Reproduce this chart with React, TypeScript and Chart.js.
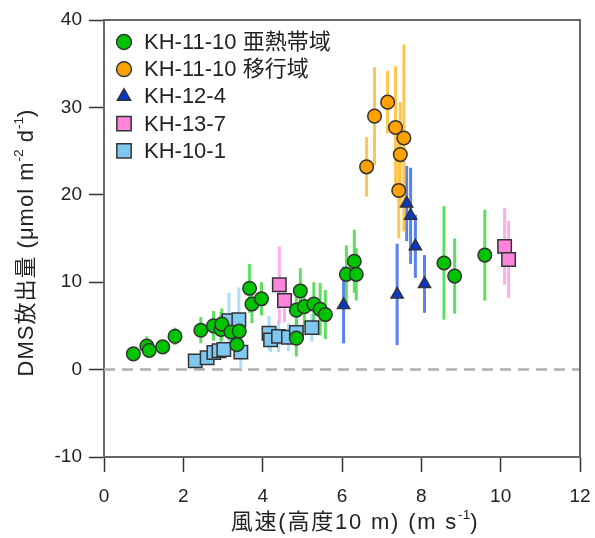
import React, { useEffect, useRef } from 'react';
import { Chart, registerables } from 'chart.js';
import { drawPoint } from 'chart.js/helpers';

Chart.register(...registerables);

const FONT = "'Liberation Sans', 'Noto Sans CJK JP', Arial, sans-serif";

// axis ranges / ticks
const xRange = [0, 12];
const xStep = 2;
const yRange = [-10, 40];
const yStep = 10;
const zeroLine = [0, 0];

const seriesLabels = ['KH-11-10 亜熱帯域', 'KH-11-10 移行域', 'KH-12-4', 'KH-13-7', 'KH-10-1'];

// KH-11-10 亜熱帯域
const subX = [0.74, 1.08, 1.14, 1.48, 1.79, 2.44, 2.76, 2.95, 2.97, 3.2, 3.41, 3.35, 3.67, 3.73, 3.97, 4.85, 4.85, 4.95, 5.05, 5.29, 5.45, 5.58, 6.11, 6.31, 6.36, 8.57, 8.84, 9.6];
const subY = [1.8, 2.7, 2.2, 2.6, 3.8, 4.5, 5.0, 4.6, 5.2, 4.3, 4.4, 2.85, 9.3, 7.5, 8.1, 3.6, 6.8, 9.0, 7.2, 7.5, 6.9, 6.3, 10.9, 12.4, 10.9, 12.2, 10.7, 13.1];
const subErr = [0.5, 1.1, 0.8, 0.6, 1.0, 1.5, 1.7, 2.0, 1.8, 1.5, 1.8, 1.2, 2.8, 2.2, 1.9, 2.1, 2.0, 2.6, 2.2, 2.5, 3.0, 2.8, 3.3, 3.6, 3.0, 6.5, 4.3, 5.2];

// KH-11-10 移行域
const traX = [6.62, 6.82, 7.15, 7.35, 7.56, 7.47, 7.43];
const traY = [23.2, 29.0, 30.6, 27.7, 26.5, 24.6, 20.5];
const traErr = [3.4, 5.6, 3.6, 7.0, 10.7, 6.0, 5.5];

// KH-12-4
const k124X = [6.04, 7.39, 7.63, 7.73, 7.85, 8.08];
const k124Y = [7.4, 8.6, 19.0, 17.6, 14.1, 9.8];
const k124Err = [4.4, 5.8, 4.3, 5.5, 3.6, 3.3];

// KH-13-7
const k137X = [4.42, 4.55, 10.1, 10.2];
const k137Y = [9.7, 7.9, 14.1, 12.6];
const k137Err = [4.4, 2.5, 4.4, 4.4];

// KH-10-1
const k101X = [2.3, 2.6, 2.77, 2.9, 3.02, 3.15, 3.4, 3.45, 4.16, 4.2, 4.4, 4.65, 4.85, 5.24];
const k101Y = [1.0, 1.35, 1.95, 2.15, 2.3, 5.6, 5.7, 2.0, 4.15, 3.4, 3.8, 3.7, 4.25, 4.8];
const k101Err = [0.4, 0.5, 0.8, 1.0, 0.9, 3.2, 3.7, 2.2, 2.0, 1.4, 1.8, 1.6, 1.4, 1.6];

const pts = (xs: number[], ys: number[]) => xs.map((v, i) => ({ x: v, y: ys[i] }));

const styles = [
  { fill: '#00c400', err: 'rgba(80,218,80,0.9)', shape: 'circle', r: 6.8 },
  { fill: '#ffa200', err: 'rgba(255,192,60,0.9)', shape: 'circle', r: 6.8 },
  { fill: '#0a36d0', err: 'rgba(70,115,240,0.9)', shape: 'triangle', r: 7 },
  { fill: '#ff85dc', err: 'rgba(255,165,232,0.9)', shape: 'rect', r: 9.5 },
  { fill: '#80c8f2', err: 'rgba(165,218,250,0.9)', shape: 'rect', r: 9.5 },
];

const seriesData = [
  [subX, subY, subErr],
  [traX, traY, traErr],
  [k124X, k124Y, k124Err],
  [k137X, k137Y, k137Err],
  [k101X, k101Y, k101Err],
];

const errorBarPlugin = {
  id: 'errorBars',
  beforeDatasetsDraw(chart: any) {
    const { ctx, scales, chartArea } = chart;
    const xs = scales.x;
    const ys = scales.y;
    ctx.save();
    ctx.beginPath();
    ctx.rect(chartArea.left, chartArea.top, chartArea.right - chartArea.left, chartArea.bottom - chartArea.top);
    ctx.clip();
    const dsets = chart.data.datasets;
    for (let d = dsets.length - 1; d >= 0; d--) {
      const ds = dsets[d];
      if (!ds.errors) continue;
      ctx.strokeStyle = ds.errorColor;
      ctx.lineWidth = 3;
      ds.data.forEach((p: any, i: number) => {
        const px = xs.getPixelForValue(p.x);
        ctx.beginPath();
        ctx.moveTo(px, ys.getPixelForValue(p.y - ds.errors[i]));
        ctx.lineTo(px, ys.getPixelForValue(p.y + ds.errors[i]));
        ctx.stroke();
      });
    }
    ctx.restore();
  },
};

type Seg = { t: string; sup?: boolean };

function drawRich(ctx: CanvasRenderingContext2D, segs: Seg[], size: number, spacing: number) {
  const c: any = ctx;
  const setFont = (s: Seg) => {
    ctx.font = `${s.sup ? size * 0.62 : size}px ${FONT}`;
    c.letterSpacing = `${s.sup ? 0 : spacing}px`;
  };
  const widths = segs.map((s) => {
    setFont(s);
    return ctx.measureText(s.t).width;
  });
  const total = widths.reduce((a, b) => a + b, 0);
  let cx = -total / 2;
  segs.forEach((s, i) => {
    setFont(s);
    ctx.fillText(s.t, cx, s.sup ? -size * 0.36 : 0);
    cx += widths[i];
  });
  c.letterSpacing = '0px';
}

const xTitle: Seg[] = [{ t: '風速(高度10 m) (m s' }, { t: '-1', sup: true }, { t: ')' }];
const yTitle: Seg[] = [{ t: 'DMS放出量 (μmol m' }, { t: '-2', sup: true }, { t: ' d' }, { t: '-1', sup: true }, { t: ')' }];

const decorPlugin = {
  id: 'decor',
  afterDraw(chart: any) {
    const { ctx, chartArea } = chart;
    ctx.save();
    // frame top and right
    ctx.strokeStyle = '#666';
    ctx.lineWidth = 2;
    ctx.beginPath();
    ctx.moveTo(chartArea.left, chartArea.top);
    ctx.lineTo(chartArea.right, chartArea.top);
    ctx.lineTo(chartArea.right, chartArea.bottom);
    ctx.stroke();

    // titles
    ctx.fillStyle = '#222';
    ctx.textBaseline = 'middle';
    ctx.textAlign = 'left';
    ctx.save();
    ctx.translate((chartArea.left + chartArea.right) / 2 + 13, chartArea.bottom + 66);
    drawRich(ctx, xTitle, 22, 1.8);
    ctx.restore();
    ctx.save();
    ctx.translate(27, (chartArea.top + chartArea.bottom) / 2 + 4);
    ctx.rotate(-Math.PI / 2);
    drawRich(ctx, yTitle, 22, 1);
    ctx.restore();

    // legend
    const lx = chartArea.left + 20;
    const tx = chartArea.left + 40;
    chart.data.datasets.forEach((ds: any, i: number) => {
      if (!ds.errors) return;
      const ly = chartArea.top + 22 + i * 27.2;
      ctx.fillStyle = ds.backgroundColor;
      ctx.strokeStyle = '#333';
      ctx.lineWidth = 1.5;
      drawPoint(ctx, { pointStyle: ds.pointStyle, radius: ds.pointRadius + 0.6, rotation: 0, borderWidth: 1.5 } as any, lx, ly);
      ctx.fillStyle = '#222';
      ctx.font = `22px ${FONT}`;
      ctx.fillText(ds.label, tx, ly + 1);
    });
    ctx.restore();
  },
};

export default function App() {
  const ref = useRef<HTMLCanvasElement>(null);
  useEffect(() => {
    if (!ref.current) return;
    const datasets: any[] = seriesData.map((s, i) => ({
      type: 'scatter',
      label: seriesLabels[i],
      data: pts(s[0], s[1]),
      errors: s[2],
      errorColor: styles[i].err,
      backgroundColor: styles[i].fill,
      borderColor: '#333',
      borderWidth: 1.5,
      pointStyle: styles[i].shape,
      pointRadius: styles[i].r,
      pointHoverRadius: styles[i].r,
      order: i,
    }));
    datasets.push({
      type: 'line',
      label: 'zero',
      data: pts(xRange, zeroLine),
      borderColor: '#b0b0b0',
      borderWidth: 2.5,
      borderDash: [11, 7],
      pointRadius: 0,
      order: 20,
    });
    const chart = new Chart(ref.current, {
      type: 'scatter',
      data: { datasets },
      options: {
        responsive: false,
        animation: false,
        devicePixelRatio: 1,
        layout: { padding: { left: 0, right: 15, top: 20, bottom: 0 } },
        plugins: { legend: { display: false }, tooltip: { enabled: false } },
        scales: {
          x: {
            type: 'linear',
            min: xRange[0],
            max: xRange[1],
            afterFit: (s: any) => { s.height = 81; s.paddingRight = 0; s.paddingLeft = 0; },
            ticks: { stepSize: xStep, font: { family: FONT, size: 19 }, color: '#222', padding: 13, maxRotation: 0 },
            grid: { drawOnChartArea: false, drawTicks: true, tickLength: 15, tickColor: '#333', tickWidth: 1.5 },
            border: { display: true, color: '#666', width: 2 },
          },
          y: {
            type: 'linear',
            min: yRange[0],
            max: yRange[1],
            afterFit: (s: any) => { s.width = 104; s.paddingTop = 0; s.paddingBottom = 0; },
            ticks: { stepSize: yStep, font: { family: FONT, size: 19 }, color: '#222', padding: 7 },
            grid: { drawOnChartArea: false, drawTicks: true, tickLength: 15, tickColor: '#333', tickWidth: 1.5 },
            border: { display: true, color: '#666', width: 2 },
          },
        },
      },
      plugins: [errorBarPlugin, decorPlugin],
    } as any);
    return () => chart.destroy();
  }, []);
  return (
    <div style={{ position: 'absolute', left: 0, top: 0, width: 595, height: 538, background: '#fff' }}>
      <canvas ref={ref} width={595} height={538} />
    </div>
  );
}
